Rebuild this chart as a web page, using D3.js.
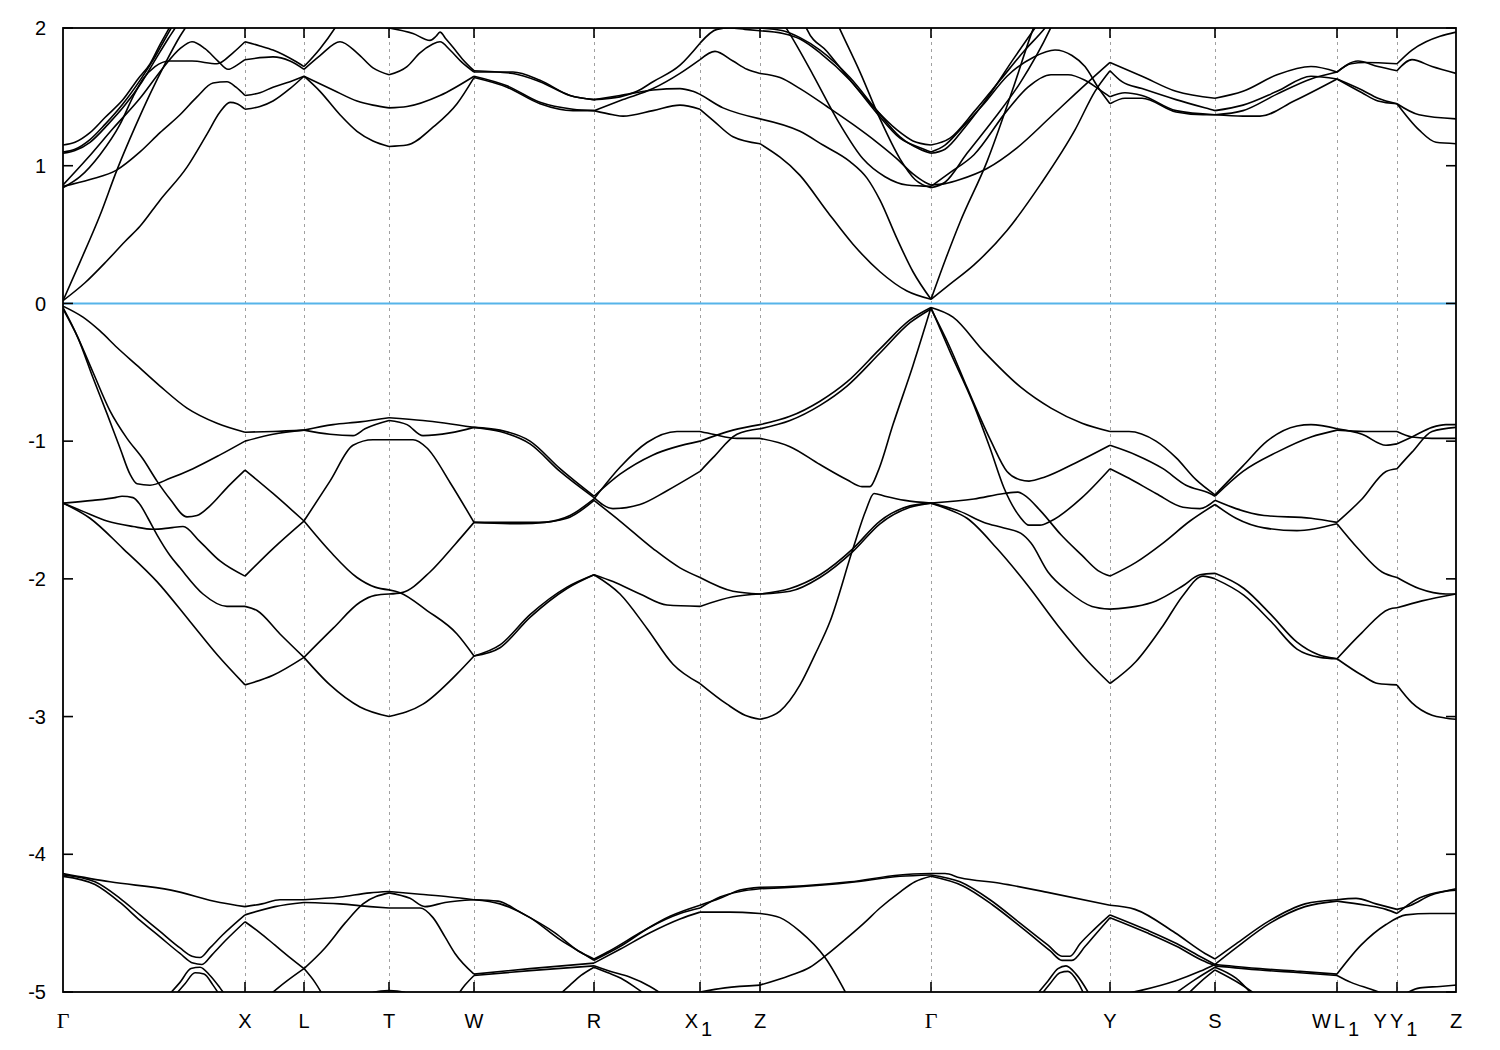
<!DOCTYPE html>
<html><head><meta charset="utf-8">
<script src="https://cdn.jsdelivr.net/npm/d3@7"></script>
<style>body{margin:0;background:#fff}svg{display:block}</style>
</head><body>
<svg id="chart" width="1500" height="1050"></svg>
<script>
// High-symmetry points along the k-path
const kPoints = [0, 1.82, 2.41, 3.26, 4.11, 5.31, 6.37, 6.97, 8.68, 10.47, 11.52, 12.74, 13.34, 13.93];
const kLabels = [["Γ",""],["X",""],["L",""],["T",""],["W",""],["R",""],["X","1"],["Z",""],["Γ",""],["Y",""],["S",""],["WL","1"],["YY","1"],["Z",""]];
const yTicks = [2, 1, 0, -1, -2, -3, -4, -5];
const fermiLevel = 0;

// Valence bands [k, E]
const vbA = [[0,-0.02],[0.20,-0.10],[0.37,-0.20],[0.54,-0.32],[0.74,-0.45],[0.97,-0.60],[1.24,-0.76],[1.54,-0.87],[1.82,-0.935],[2.10,-0.93],[2.41,-0.92],[2.70,-0.88],[2.97,-0.86],[3.26,-0.83],[3.60,-0.85],[4.11,-0.90],[4.37,-0.92],[4.67,-1.00],[4.97,-1.20],[5.31,-1.40],[5.57,-1.24],[5.90,-1.10],[6.37,-1.00],[6.70,-0.92],[6.97,-0.88],[7.27,-0.82],[7.57,-0.71],[7.84,-0.57],[8.17,-0.33],[8.47,-0.12],[8.68,-0.03],[8.90,-0.10],[9.21,-0.35],[9.58,-0.61],[9.88,-0.76],[10.19,-0.87],[10.47,-0.93],[10.66,-0.93],[10.93,-1.00],[11.13,-1.12],[11.33,-1.28],[11.52,-1.39],[11.80,-1.18],[12.04,-1.00],[12.34,-0.89],[12.48,-0.88],[12.74,-0.91],[12.99,-0.95],[13.23,-1.03],[13.34,-1.02],[13.49,-0.97],[13.69,-0.90],[13.83,-0.88],[13.93,-0.88]];
const vbB = [[0,-0.03],[0.15,-0.25],[0.30,-0.54],[0.44,-0.80],[0.57,-1.05],[0.67,-1.24],[0.74,-1.31],[0.87,-1.32],[1.07,-1.27],[1.30,-1.20],[1.57,-1.10],[1.82,-1.00],[2.10,-0.95],[2.41,-0.92],[2.67,-0.95],[2.90,-0.96],[3.02,-0.91],[3.26,-0.85],[3.44,-0.88],[3.60,-0.96],[3.87,-0.94],[4.11,-0.90],[4.37,-0.93],[4.67,-1.02],[4.97,-1.22],[5.31,-1.41],[5.50,-1.49],[5.77,-1.46],[6.04,-1.36],[6.37,-1.22],[6.50,-1.12],[6.74,-0.95],[6.97,-0.91],[7.27,-0.85],[7.57,-0.74],[7.84,-0.60],[8.17,-0.36],[8.47,-0.14],[8.68,-0.04],[8.87,-0.32],[9.04,-0.61],[9.28,-1.00],[9.44,-1.22],[9.57,-1.28],[9.66,-1.29],[9.82,-1.26],[10.12,-1.16],[10.47,-1.03],[10.73,-1.10],[11.00,-1.20],[11.23,-1.32],[11.47,-1.38],[11.52,-1.40],[11.80,-1.22],[12.14,-1.08],[12.48,-0.97],[12.74,-0.92],[13.02,-0.93],[13.34,-0.93],[13.49,-0.97],[13.69,-0.98],[13.93,-0.98]];
const vbC = [[0,-0.04],[0.15,-0.25],[0.30,-0.50],[0.47,-0.78],[0.64,-0.98],[0.80,-1.13],[0.94,-1.29],[1.07,-1.42],[1.24,-1.55],[1.34,-1.54],[1.47,-1.47],[1.65,-1.33],[1.82,-1.21],[2.10,-1.38],[2.41,-1.58],[2.67,-1.80],[2.94,-1.99],[3.12,-2.06],[3.26,-2.08],[3.37,-2.10],[3.64,-2.23],[3.94,-2.40],[4.11,-2.56],[4.37,-2.50],[4.67,-2.28],[5.04,-2.07],[5.31,-1.97],[5.57,-2.11],[5.84,-2.36],[6.10,-2.62],[6.37,-2.76],[6.64,-2.91],[6.82,-2.99],[6.97,-3.02],[7.17,-2.96],[7.37,-2.77],[7.52,-2.55],[7.67,-2.31],[7.90,-1.78],[8.03,-1.50],[8.11,-1.38],[8.22,-1.40],[8.42,-1.43],[8.68,-1.45],[8.87,-1.50],[9.04,-1.56],[9.34,-1.78],[9.65,-2.05],[9.95,-2.34],[10.25,-2.60],[10.47,-2.76],[10.73,-2.60],[11.00,-2.34],[11.20,-2.12],[11.40,-1.98],[11.52,-2.00],[11.81,-2.12],[12.08,-2.31],[12.34,-2.51],[12.57,-2.57],[12.74,-2.58],[12.99,-2.70],[13.15,-2.76],[13.34,-2.77],[13.49,-2.90],[13.69,-2.99],[13.82,-3.01],[13.93,-3.02]];
const vbD = [[0,-1.45],[0.30,-1.43],[0.52,-1.41],[0.59,-1.40],[0.70,-1.41],[0.77,-1.46],[0.85,-1.56],[0.94,-1.68],[1.07,-1.83],[1.17,-1.92],[1.40,-2.11],[1.64,-2.20],[1.82,-2.20],[1.94,-2.23],[2.17,-2.40],[2.41,-2.57],[2.67,-2.77],[2.97,-2.93],[3.26,-3.00],[3.60,-2.91],[3.94,-2.69],[4.11,-2.56],[4.37,-2.48],[4.67,-2.26],[5.04,-2.06],[5.31,-1.97],[5.50,-2.02],[5.77,-2.11],[6.04,-2.19],[6.37,-2.20],[6.70,-2.13],[6.97,-2.11],[7.27,-2.07],[7.57,-1.97],[7.90,-1.78],[8.17,-1.58],[8.47,-1.47],[8.68,-1.45],[8.97,-1.51],[9.21,-1.59],[9.41,-1.63],[9.58,-1.67],[9.68,-1.74],[9.85,-1.95],[10.05,-2.09],[10.29,-2.20],[10.47,-2.22],[10.73,-2.20],[10.93,-2.16],[11.20,-2.05],[11.37,-1.97],[11.52,-1.96],[11.81,-2.07],[12.08,-2.26],[12.34,-2.46],[12.55,-2.55],[12.74,-2.58],[12.99,-2.39],[13.26,-2.22],[13.34,-2.21],[13.59,-2.16],[13.93,-2.11]];
const vbE = [[0,-1.45],[0.20,-1.51],[0.44,-1.58],[0.70,-1.62],[0.90,-1.64],[1.07,-1.63],[1.20,-1.62],[1.37,-1.73],[1.57,-1.87],[1.82,-1.98],[2.10,-1.78],[2.41,-1.58],[2.67,-1.29],[2.90,-1.03],[3.10,-0.99],[3.26,-0.99],[3.50,-0.99],[3.64,-1.05],[3.87,-1.30],[4.11,-1.59],[4.47,-1.59],[4.77,-1.59],[5.04,-1.56],[5.31,-1.43],[5.57,-1.58],[5.90,-1.78],[6.17,-1.92],[6.37,-1.99],[6.70,-2.09],[6.97,-2.11],[7.27,-2.09],[7.57,-1.99],[7.90,-1.80],[8.17,-1.60],[8.47,-1.48],[8.68,-1.45],[9.11,-1.42],[9.41,-1.38],[9.55,-1.37],[9.61,-1.39],[9.78,-1.51],[9.98,-1.68],[10.19,-1.83],[10.35,-1.94],[10.47,-1.98],[10.73,-1.88],[11.00,-1.74],[11.27,-1.58],[11.52,-1.46],[11.73,-1.56],[12.01,-1.63],[12.34,-1.65],[12.74,-1.60],[12.95,-1.78],[13.19,-1.95],[13.34,-1.99],[13.56,-2.07],[13.83,-2.11],[13.93,-2.11]];
const vbF = [[0,-1.45],[0.27,-1.56],[0.60,-1.78],[0.94,-2.02],[1.27,-2.31],[1.54,-2.55],[1.82,-2.77],[2.10,-2.70],[2.41,-2.57],[2.70,-2.36],[2.97,-2.17],[3.12,-2.12],[3.26,-2.11],[3.39,-2.10],[3.67,-1.95],[3.92,-1.75],[4.11,-1.59],[4.57,-1.60],[4.82,-1.59],[5.07,-1.54],[5.31,-1.42],[5.57,-1.19],[5.84,-1.01],[6.14,-0.93],[6.37,-0.93],[6.50,-0.95],[6.74,-0.98],[6.97,-0.98],[7.27,-1.04],[7.57,-1.17],[7.84,-1.28],[7.99,-1.33],[8.07,-1.33],[8.15,-1.22],[8.30,-0.88],[8.50,-0.45],[8.68,-0.03],[8.87,-0.35],[9.11,-0.74],[9.27,-1.05],[9.41,-1.34],[9.57,-1.55],[9.66,-1.61],[9.77,-1.61],[9.88,-1.58],[10.19,-1.41],[10.47,-1.20],[10.66,-1.27],[10.93,-1.38],[11.20,-1.48],[11.37,-1.49],[11.52,-1.43],[11.73,-1.49],[12.01,-1.54],[12.48,-1.56],[12.74,-1.59],[12.99,-1.42],[13.23,-1.22],[13.34,-1.20],[13.49,-1.08],[13.69,-0.93],[13.93,-0.90]];

// Deep bands near -4 ... -5 [k, E]
const dbT1 = [[0,-4.14],[0.47,-4.20],[1.08,-4.26],[1.57,-4.35],[1.82,-4.38],[1.99,-4.36],[2.17,-4.33],[2.41,-4.33],[2.77,-4.31],[3.07,-4.28],[3.26,-4.27],[3.57,-4.29],[3.87,-4.31],[4.11,-4.33],[4.35,-4.34],[4.57,-4.42],[4.92,-4.57],[5.17,-4.71],[5.31,-4.76],[5.47,-4.70],[5.77,-4.57],[6.07,-4.45],[6.37,-4.37],[6.57,-4.32],[6.77,-4.26],[6.97,-4.24],[7.37,-4.23],[7.87,-4.20],[8.37,-4.15],[8.68,-4.14],[8.82,-4.14],[8.97,-4.17],[9.37,-4.21],[9.87,-4.28],[10.47,-4.37],[10.72,-4.40],[11.12,-4.57],[11.42,-4.72],[11.52,-4.76],[11.73,-4.65],[12.07,-4.48],[12.42,-4.36],[12.74,-4.33],[12.93,-4.32],[13.13,-4.36],[13.34,-4.40],[13.48,-4.37],[13.67,-4.30],[13.93,-4.25]];
const dbT2 = [[0,-4.15],[0.32,-4.20],[0.57,-4.32],[0.77,-4.44],[0.97,-4.56],[1.17,-4.68],[1.29,-4.74],[1.37,-4.75],[1.47,-4.68],[1.59,-4.59],[1.82,-4.44],[2.12,-4.38],[2.41,-4.35],[2.77,-4.36],[3.07,-4.38],[3.26,-4.39],[3.57,-4.39],[3.70,-4.46],[3.82,-4.60],[3.92,-4.72],[4.11,-4.87],[4.67,-4.83],[5.31,-4.79],[5.57,-4.69],[5.87,-4.57],[6.17,-4.47],[6.37,-4.42],[6.67,-4.42],[6.97,-4.43],[7.17,-4.46],[7.37,-4.56],[7.62,-4.75],[7.86,-5.05]];
const dbT3 = [[0,-4.16],[0.32,-4.22],[0.57,-4.35],[0.77,-4.48],[0.97,-4.60],[1.17,-4.72],[1.30,-4.79],[1.39,-4.80],[1.49,-4.73],[1.62,-4.63],[1.82,-4.49],[1.97,-4.57],[2.12,-4.66],[2.27,-4.75],[2.41,-4.83],[2.52,-4.93],[2.62,-5.05]];
const dbT4 = [[1.02,-5.05],[1.17,-4.93],[1.28,-4.83],[1.37,-4.82],[1.47,-4.88],[1.57,-4.97],[1.65,-5.05]];
const dbT5 = [[1.09,-5.05],[1.22,-4.94],[1.32,-4.86],[1.41,-4.87],[1.50,-4.95],[1.59,-5.05]];
const dbT7 = [[2.02,-5.05],[2.22,-4.93],[2.41,-4.83],[2.62,-4.68],[2.82,-4.50],[3.00,-4.36],[3.26,-4.28],[3.47,-4.32],[3.62,-4.38],[3.82,-4.35],[4.11,-4.33],[4.37,-4.36],[4.67,-4.46],[4.97,-4.62],[5.22,-4.73],[5.31,-4.77],[5.57,-4.67],[5.87,-4.53],[6.17,-4.43],[6.37,-4.39],[6.57,-4.31],[6.77,-4.27],[6.97,-4.25],[7.37,-4.235],[7.87,-4.205],[8.37,-4.16],[8.68,-4.15],[8.97,-4.20],[9.27,-4.33],[9.57,-4.50],[9.85,-4.66],[9.99,-4.74],[10.07,-4.74],[10.17,-4.65],[10.32,-4.54],[10.47,-4.44],[10.84,-4.55],[11.14,-4.65],[11.39,-4.75],[11.52,-4.80],[11.97,-4.83],[12.37,-4.85],[12.74,-4.87],[12.98,-4.66],[13.23,-4.51],[13.43,-4.44],[13.67,-4.43],[13.93,-4.43]];
const dbTbot = [[2.97,-5.05],[3.12,-5.00],[3.26,-4.99],[3.40,-5.00],[3.55,-5.05]];
const dbWlow = [[3.92,-5.05],[4.02,-4.95],[4.11,-4.88],[4.67,-4.845],[5.31,-4.81],[5.47,-4.85],[5.66,-4.89],[5.87,-4.96],[6.06,-5.05]];
const dbR = [[4.92,-5.05],[5.07,-4.95],[5.18,-4.88],[5.31,-4.82],[5.45,-4.86],[5.58,-4.90],[5.73,-4.97],[5.88,-5.05]];
const dbZ = [[6.27,-5.05],[6.37,-5.00],[6.62,-4.97],[6.97,-4.95],[7.27,-4.88],[7.47,-4.82],[7.62,-4.74],[7.82,-4.62],[8.01,-4.50],[8.17,-4.39],[8.36,-4.28],[8.52,-4.20],[8.68,-4.16],[9.00,-4.23],[9.30,-4.37],[9.60,-4.54],[9.87,-4.70],[9.99,-4.77],[10.09,-4.77],[10.22,-4.67],[10.35,-4.56],[10.47,-4.46],[10.84,-4.57],[11.14,-4.67],[11.39,-4.77],[11.52,-4.81],[11.97,-4.84],[12.37,-4.86],[12.74,-4.88],[12.88,-4.93],[13.08,-4.98],[13.34,-5.05]];
const dbG1 = [[9.70,-5.05],[9.85,-4.92],[9.95,-4.83],[10.03,-4.81],[10.13,-4.87],[10.29,-5.05]];
const dbG2 = [[9.75,-5.05],[9.87,-4.94],[9.97,-4.86],[10.05,-4.85],[10.15,-4.93],[10.23,-5.05]];
const dbS1 = [[10.50,-5.03],[10.77,-4.99],[11.12,-4.92],[11.37,-4.85],[11.52,-4.80],[11.73,-4.68],[12.07,-4.50],[12.42,-4.38],[12.74,-4.34],[13.03,-4.37],[13.23,-4.40],[13.34,-4.43],[13.53,-4.33],[13.73,-4.28],[13.93,-4.26]];
const dbS2 = [[11.05,-5.05],[11.32,-4.91],[11.52,-4.82],[11.73,-4.90],[11.93,-5.05]];
const dbS3 = [[11.20,-5.05],[11.37,-4.93],[11.52,-4.84],[11.77,-4.94],[11.99,-5.05]];
const dbY1 = [[13.34,-5.05],[13.57,-4.97],[13.77,-4.96],[13.93,-4.95]];

// Conduction bands [k, E]
const cb1 = [[0,0.02],[0.22,0.15],[0.44,0.31],[0.62,0.45],[0.77,0.56],[0.97,0.75],[1.24,0.99],[1.44,1.23],[1.57,1.39],[1.67,1.46],[1.74,1.45],[1.82,1.41],[1.97,1.43],[2.10,1.47],[2.27,1.56],[2.41,1.65],[2.57,1.54],[2.77,1.37],[2.94,1.25],[3.10,1.18],[3.26,1.14],[3.44,1.15],[3.70,1.28],[3.94,1.45],[4.11,1.64],[4.44,1.57],[4.77,1.45],[5.10,1.40],[5.31,1.40],[5.50,1.37],[5.60,1.36],[5.90,1.40],[6.17,1.44],[6.37,1.41],[6.50,1.33],[6.70,1.21],[6.97,1.16],[7.37,0.93],[7.64,0.67],[7.90,0.43],[8.17,0.23],[8.44,0.09],[8.68,0.03],[8.87,0.14],[9.11,0.28],[9.44,0.53],[9.78,0.87],[10.12,1.26],[10.32,1.54],[10.47,1.69],[10.59,1.61],[10.79,1.56],[11.13,1.48],[11.47,1.41],[11.52,1.40],[11.80,1.44],[12.14,1.54],[12.48,1.65],[12.74,1.63],[12.99,1.55],[13.15,1.49],[13.34,1.45],[13.56,1.37],[13.93,1.34]];
const cb2 = [[0,0.02],[0.17,0.30],[0.37,0.64],[0.54,0.97],[0.72,1.28],[0.87,1.52],[1.02,1.74],[1.17,1.94],[1.25,2.03],[1.35,2.15]];
const cb3 = [[0,0.85],[0.27,0.90],[0.54,0.97],[0.77,1.10],[0.97,1.24],[1.17,1.37],[1.34,1.50],[1.50,1.60],[1.64,1.61],[1.73,1.57],[1.82,1.51],[1.97,1.53],[2.10,1.57],[2.27,1.61],[2.41,1.65],[2.70,1.55],[2.94,1.47],[3.10,1.44],[3.26,1.42],[3.44,1.43],[3.77,1.51],[4.11,1.65],[4.44,1.58],[4.77,1.46],[5.10,1.41],[5.31,1.40],[5.60,1.48],[5.90,1.56],[6.17,1.67],[6.37,1.77],[6.52,1.83],[6.70,1.76],[6.84,1.70],[6.97,1.67],[7.17,1.64],[7.37,1.56],[7.64,1.43],[7.90,1.30],[8.14,1.17],[8.34,1.05],[8.50,0.94],[8.62,0.88],[8.68,0.86],[8.82,0.87],[8.97,0.90],[9.24,0.98],[9.54,1.13],[9.87,1.35],[10.12,1.52],[10.27,1.62],[10.47,1.75],[10.79,1.65],[11.13,1.54],[11.52,1.49],[11.80,1.54],[12.14,1.66],[12.48,1.72],[12.74,1.68],[12.88,1.74],[13.02,1.75],[13.34,1.74],[13.49,1.84],[13.63,1.90],[13.77,1.94],[13.93,1.97]];
const cbP = [[0,0.86],[0.24,1.05],[0.50,1.27],[0.77,1.49],[1.00,1.71],[1.17,1.85],[1.29,1.90],[1.42,1.85],[1.55,1.76],[1.65,1.70],[1.74,1.73],[1.82,1.77],[2.10,1.79],[2.27,1.76],[2.41,1.70],[2.57,1.80],[2.77,1.90],[2.94,1.82],[3.10,1.71],[3.26,1.66],[3.44,1.72],[3.57,1.82],[3.69,1.88],[3.77,1.90],[3.87,1.84],[3.99,1.75],[4.11,1.68],[4.50,1.68],[4.77,1.62],[5.07,1.51],[5.31,1.48],[5.57,1.50],[5.74,1.54],[5.90,1.61],[6.17,1.73],[6.37,1.89],[6.54,1.99],[6.67,2.00],[6.82,1.99],[6.97,1.98],[7.20,1.96],[7.37,1.92],[7.57,1.82],[7.87,1.62],[8.14,1.38],[8.37,1.20],[8.57,1.13],[8.68,1.10],[8.82,1.15],[8.97,1.26],[9.21,1.45],[9.44,1.65],[9.71,1.79],[9.92,1.84],[10.09,1.80],[10.22,1.72],[10.35,1.57],[10.47,1.45],[10.62,1.49],[10.79,1.49],[11.13,1.39],[11.40,1.37],[11.52,1.37],[11.80,1.40],[12.14,1.52],[12.48,1.63],[12.74,1.68],[12.95,1.76],[13.15,1.72],[13.34,1.69],[13.49,1.77],[13.69,1.72],[13.93,1.67]];
const cbQ = [[0,0.84],[0.17,0.92],[0.37,1.08],[0.57,1.30],[0.70,1.50],[0.80,1.63],[0.92,1.72],[1.07,1.76],[1.29,1.76],[1.54,1.74],[1.70,1.82],[1.82,1.90],[1.97,1.87],[2.10,1.84],[2.32,1.76],[2.41,1.72],[2.57,1.85],[2.72,2.00],[2.82,2.12]];
const cbU = [[3.02,2.10],[3.15,2.02],[3.26,2.00],[3.50,1.96],[3.67,1.91],[3.73,1.94],[3.77,1.97],[3.83,1.92],[3.90,1.86],[4.00,1.77],[4.11,1.69],[4.50,1.67],[4.77,1.61],[5.07,1.51],[5.31,1.48],[5.57,1.51],[5.90,1.55],[6.17,1.56],[6.30,1.54],[6.60,1.42],[6.97,1.34],[7.37,1.25],[7.60,1.15],[7.87,1.03],[8.04,0.91],[8.17,0.75],[8.34,0.47],[8.50,0.23],[8.68,0.03],[8.82,0.31],[8.97,0.59],[9.24,1.03],[9.50,1.56],[9.70,1.99],[9.82,2.20]];
const cb5 = [[0,1.15],[0.12,1.17],[0.27,1.24],[0.42,1.35],[0.60,1.48],[0.75,1.63],[0.87,1.74],[0.97,1.88],[1.07,2.01],[1.17,2.15]];
const cb6 = [[0,1.10],[0.12,1.12],[0.27,1.19],[0.42,1.30],[0.60,1.45],[0.77,1.62],[0.92,1.79],[1.02,1.92],[1.09,2.01],[1.17,2.12]];
const cb7 = [[0,1.09],[0.12,1.11],[0.27,1.17],[0.45,1.30],[0.62,1.44],[0.79,1.61],[0.94,1.79],[1.05,1.92],[1.13,2.01],[1.22,2.13]];
const cbA = [[7.07,2.15],[7.24,1.99],[7.37,1.83],[7.50,1.66],[7.77,1.30],[8.00,1.05],[8.22,0.92],[8.44,0.86],[8.68,0.85],[8.87,0.95],[9.11,1.08],[9.44,1.40],[9.65,1.57],[9.88,1.66],[10.05,1.66],[10.22,1.62],[10.35,1.56],[10.47,1.50],[10.62,1.53],[10.79,1.51],[11.13,1.40],[11.52,1.37],[11.80,1.36],[11.97,1.36],[12.31,1.47],[12.74,1.63],[12.99,1.53],[13.15,1.47],[13.34,1.45],[13.56,1.26],[13.73,1.17],[13.93,1.16]];
const cbB = [[7.37,2.12],[7.44,1.99],[7.64,1.83],[7.84,1.65],[8.10,1.43],[8.34,1.26],[8.50,1.18],[8.68,1.15],[8.87,1.20],[9.12,1.40],[9.37,1.62],[9.62,1.84],[9.82,2.00],[9.97,2.15]];
const cbC = [[7.67,2.15],[7.77,1.99],[7.97,1.68],[8.17,1.34],[8.37,1.05],[8.52,0.90],[8.68,0.84],[8.82,0.88],[9.04,1.09],[9.30,1.33],[9.57,1.60],[9.87,1.99],[9.97,2.15]];
const cbD = [[6.37,2.20],[6.67,2.05],[6.82,2.02],[6.97,2.00],[7.20,1.98],[7.37,1.93],[7.57,1.84],[7.87,1.64],[8.14,1.40],[8.37,1.21],[8.57,1.12],[8.68,1.09],[8.82,1.12],[9.02,1.28],[9.27,1.52],[9.50,1.77],[9.72,2.00],[9.87,2.15]];

const bands = [vbA, vbB, vbC, vbD, vbE, vbF,
  dbT1, dbT2, dbT3, dbT4, dbT5, dbT7, dbTbot, dbWlow, dbR, dbZ, dbG1, dbG2, dbS1, dbS2, dbS3, dbY1,
  cb1, cb2, cb3, cbP, cbQ, cbU, cb5, cb6, cb7, cbA, cbB, cbC, cbD];

// ---------- drawing ----------
const svg = d3.select("#chart");
const L = 63, R = 1456, T = 28, B = 992;
const x = d3.scaleLinear().domain([kPoints[0], kPoints[kPoints.length-1]]).range([L, R]);
const y = d3.scaleLinear().domain([-5, 2]).range([B, T]);

svg.append("defs").append("clipPath").attr("id","plotClip")
  .append("rect").attr("x", L).attr("y", T).attr("width", R-L).attr("height", B-T);

// dashed grid at symmetry points
svg.append("g").selectAll("line").data(kPoints.slice(1, -1)).join("line")
  .attr("x1", d => x(d)).attr("x2", d => x(d)).attr("y1", T).attr("y2", B)
  .attr("stroke", "#a0a0a0").attr("stroke-width", 1).attr("stroke-dasharray", "3,4")
  .attr("shape-rendering","crispEdges");

// Fermi level
svg.append("line").attr("x1", L).attr("x2", R).attr("y1", y(fermiLevel)).attr("y2", y(fermiLevel))
  .attr("stroke", "#56b4e9").attr("stroke-width", 2);

// split bands at symmetry points so kinks stay sharp
function splitAtTicks(pts) {
  const segs = []; let cur = [];
  pts.forEach(p => {
    cur.push(p);
    if (cur.length > 1 && kPoints.some(k => Math.abs(k - p[0]) < 0.004)) { segs.push(cur); cur = [p]; }
  });
  if (cur.length > 1) segs.push(cur);
  return segs;
}
const line = d3.line().x(d => x(d[0])).y(d => y(d[1])).curve(d3.curveMonotoneX);
const gB = svg.append("g").attr("clip-path", "url(#plotClip)");
bands.forEach(b => {
  splitAtTicks(b).forEach(seg => {
    gB.append("path").attr("d", line(seg)).attr("fill", "none")
      .attr("stroke", "#000").attr("stroke-width", 1.6).attr("stroke-linejoin","round");
  });
});

// border
svg.append("rect").attr("x", L).attr("y", T).attr("width", R-L).attr("height", B-T)
  .attr("fill", "none").attr("stroke", "#000").attr("stroke-width", 1.8);

// ticks
const tl = 10;
const gT = svg.append("g").attr("stroke", "#000").attr("stroke-width", 1.6);
yTicks.forEach(v => {
  gT.append("line").attr("x1", L).attr("x2", L+tl).attr("y1", y(v)).attr("y2", y(v));
  gT.append("line").attr("x1", R).attr("x2", R-tl).attr("y1", y(v)).attr("y2", y(v));
});
kPoints.slice(1, -1).forEach(k => {
  gT.append("line").attr("x1", x(k)).attr("x2", x(k)).attr("y1", B).attr("y2", B-tl);
  gT.append("line").attr("x1", x(k)).attr("x2", x(k)).attr("y1", T).attr("y2", T+tl);
});

// y labels
const font = "'Liberation Sans', Arial, Helvetica, sans-serif";
svg.append("g").selectAll("text").data(yTicks).join("text")
  .attr("x", 46).attr("y", d => y(d)).attr("dy", "0.36em")
  .attr("text-anchor", "end").attr("font-family", font).attr("font-size", 20)
  .text(d => d);

// x labels
kPoints.forEach((k, i) => {
  const [main, sub] = kLabels[i];
  const t = svg.append("text").attr("x", x(k)).attr("y", 1028)
    .attr("text-anchor", "middle").attr("font-size", main === "Γ" ? 22 : 20)
    .attr("letter-spacing", sub ? 3 : 0)
    .attr("font-family", main === "Γ" ? "'Liberation Serif', 'DejaVu Serif', serif" : font);
  t.append("tspan").text(main);
  if (sub) t.append("tspan").attr("dy", 8).attr("font-size", 20).text(sub);
});
</script>
</body></html>
